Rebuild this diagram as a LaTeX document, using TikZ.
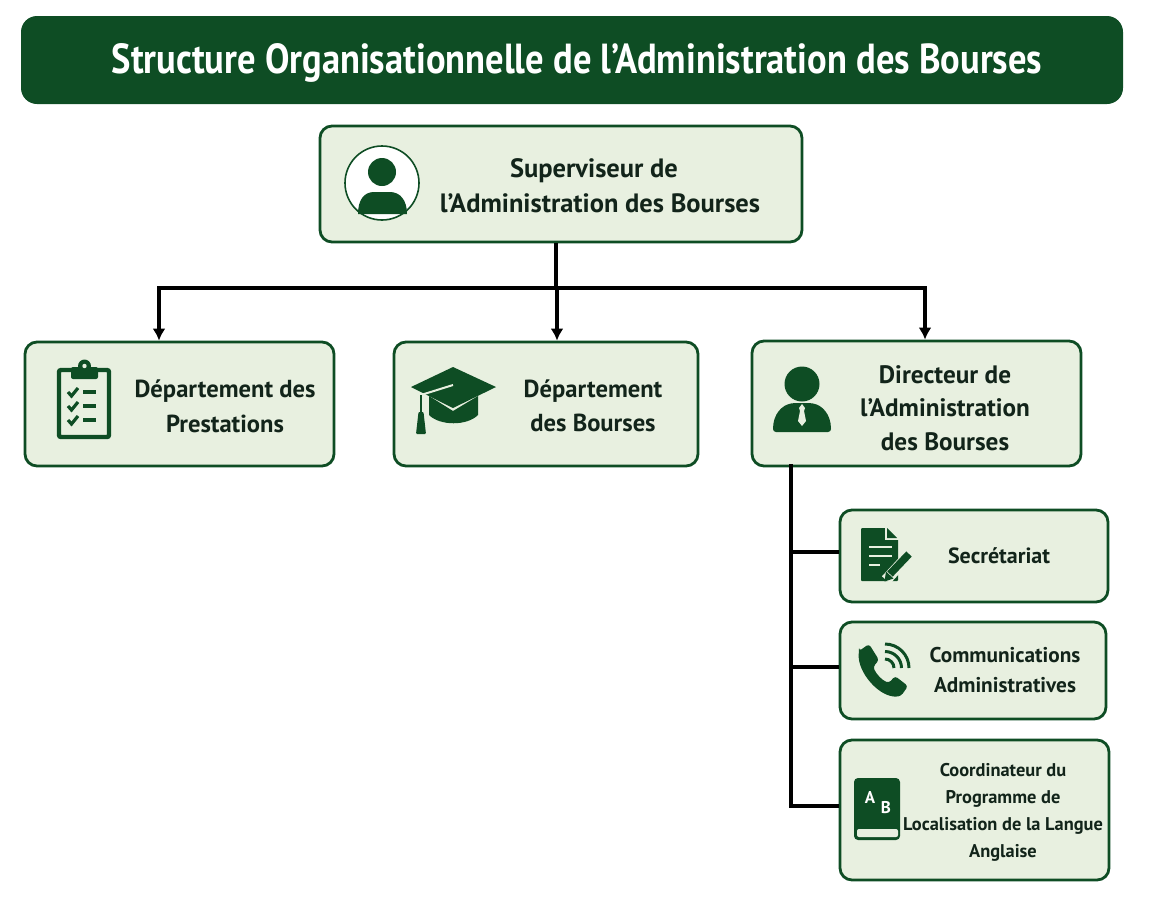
\documentclass[tikz,border=0pt]{standalone}
\usepackage{fontspec}
\setmainfont{PT Sans}
\newfontfamily\bannerfont[FakeStretch=0.87]{PT Sans}
\usetikzlibrary{arrows.meta,calc}
\definecolor{dkgreen}{HTML}{0E4D24}
\definecolor{boxfill}{HTML}{E8F0E0}
\definecolor{inktext}{HTML}{12241A}
\begin{document}
\begin{tikzpicture}[x=1pt,y=-1pt]
\tikzstyle{box}=[draw=dkgreen, fill=boxfill, line width=2.8pt, rounded corners=12pt, inner sep=0pt]
\tikzstyle{lbl}=[align=center, inner sep=0pt, text=inktext]
\tikzstyle{conn}=[black, line width=3.4pt]
\tikzstyle{arr}=[conn, -{Latex[length=12pt,width=13pt]}]
\tikzstyle{ic}=[fill=dkgreen, draw=none]
\useasboundingbox (0,0) rectangle (1150,922);
% banner
\node[fill=dkgreen, rounded corners=16pt, minimum width=1102pt, minimum height=88pt, inner sep=0pt] (title) at (572,60) {};
\node[lbl, text=white, font=\fontsize{42}{46}\bannerfont\bfseries] (titleT) at (577,63)
      {Structure Organisationnelle de l’Administration des Bourses};
% boxes
\foreach \n/\x/\y/\w/\h in {sup/561/184/482/116, prest/179.5/404/309/124, bours/546/404/304/124,
  dir/916.5/403.5/329/125, sec/974/556/268/92, comm/973/670.5/266/97, coord/974.5/810/269/140}{
  \node[box, minimum width=\w pt, minimum height=\h pt] (\n) at (\x,\y) {};
}
% labels
\node[lbl, font=\fontsize{26.5}{35}\selectfont\bfseries] (supT) at (600,186) {\hspace*{-12pt}Superviseur de\\l’Administration des Bourses};
\node[lbl, font=\fontsize{24.6}{35}\selectfont\bfseries] (prestT) at (225,406) {Département des\\Prestations};
\node[lbl, font=\fontsize{24.6}{34}\selectfont\bfseries] (boursT) at (593,406) {Département\\des Bourses};
\node[lbl, font=\fontsize{25.2}{33.5}\selectfont\bfseries] (dirT) at (945,408) {Directeur de\\l’Administration\\des Bourses};
\node[lbl, font=\fontsize{22}{30}\selectfont\bfseries] (secT) at (999,556) {Secrétariat};
\node[lbl, font=\fontsize{21.3}{30}\selectfont\bfseries] (commT) at (1005,670) {Communications\\Administratives};
\node[lbl, font=\fontsize{18.4}{27}\selectfont\bfseries] (coordT) at (1003,812) {Coordinateur du\\Programme de\\Localisation de la Langue\\Anglaise};
% connectors
\coordinate (hub) at (556,288);
\coordinate (hubL) at (159,288);
\coordinate (hubM) at (557,288);
\coordinate (hubR) at (925,288);
\draw[conn] (hub |- sup.south) -- (hub);
\draw[conn, line cap=rect] (hubL) -- (hubR);
\foreach \i/\j in {hubL/prest, hubM/bours, hubR/dir}{\draw[arr] (\i) -- (\i |- \j.north);}
\coordinate (tap) at (791,466);
\coordinate (tapA) at (791,552);
\coordinate (tapB) at (791,667);
\coordinate (tapC) at (791,806);
\draw[conn, line cap=rect] (tap) -- (tapC);
\foreach \i/\j in {tapA/sec, tapB/comm, tapC/coord}{\draw[conn] (\i) -- (\i -| \j.west);}
% person in ring
\draw[draw=dkgreen, fill=white, line width=1.6pt] (382,183) circle (37);
\fill[ic] (382,172) circle (14);
\fill[ic] (358,214) .. controls (358,200) and (364,192) .. (374,192) -- (390,192)
  .. controls (400,192) and (407,200) .. (407,214) -- cycle;
% clipboard
\draw[dkgreen, line width=4.4pt, rounded corners=2pt] (59,370) rectangle (109,437);
\fill[ic, rounded corners=2pt] (71,367) rectangle (98,379);
\fill[ic] (84.5,366) circle (6.5);
\fill[boxfill] (84.5,366) circle (2.2);
\foreach \y in {392,406,420}{
  \draw[dkgreen, line width=3.2pt] (68,\y) -- (71.5,\y+4) -- (78,\y-4);
  \draw[dkgreen, line width=3.6pt] (83,\y) -- (96,\y);
}
% mortarboard
\fill[ic] (429,396) -- (429,415) .. controls (440,426) and (467,426) .. (478,415) -- (478,396) -- (453,411) -- cycle;
\fill[ic] (411,387) -- (453,367) -- (496,387) -- (453,408) -- cycle;
\draw[boxfill, line width=2pt] (453,385) -- (421,395);
\draw[dkgreen, line width=2.6pt] (421,395) -- (421,414);
\fill[ic, rounded corners=1pt] (418.5,412) -- (423.5,412) -- (426,434) -- (416,434) -- cycle;
% manager
\fill[ic] (802,384) circle (17.5);
\fill[ic, rounded corners=3pt] (773,432) .. controls (773,414) and (782,405) .. (794,403) -- (810,403)
  .. controls (822,405) and (831,414) .. (831,432) -- cycle;
\fill[boxfill] (802,404) -- (805,408) -- (804,411) -- (806,421) -- (802,426) -- (798,421) -- (800,411) -- (799,408) -- cycle;
% sheet and pencil
\fill[ic, rounded corners=1pt] (861,528) -- (887,528) -- (898,538) -- (898,581) -- (861,581) -- cycle;
\fill[boxfill] (885,526) -- (885,540) -- (899,540) -- (899,526) -- cycle;
\fill[ic] (887,528) -- (897,538) -- (887,538) -- cycle;
\draw[boxfill, line width=2.4pt] (869,547) -- (892,547) (869,556) -- (892,556) (869,565) -- (880,565);
\draw[boxfill, line width=11pt] (886,580) -- (909,555);
\draw[dkgreen, line width=7.5pt] (890,574) -- (909,554);
\fill[ic] (884.5,581.5) -- (886,571.5) -- (893.5,578.5) -- cycle;
% handset and waves
\fill[ic, rounded corners=3pt] (859,651) -- (869,644) -- (879,660) -- (873,667)
  .. controls (877,675) and (882,680) .. (889,683) -- (895,676) -- (908,686) -- (901,696)
  .. controls (880,699) and (857,672) .. (859,651) -- cycle;
\foreach \r in {9,16.5,24}{\draw[dkgreen, line width=3pt] (885,668-\r) arc[start angle=-90, end angle=0, radius=\r];}
% book
\fill[ic, rounded corners=4pt] (854,778) rectangle (900,840);
\fill[boxfill, rounded corners=2pt] (857,829) rectangle (898,837);
\node[text=white, inner sep=0pt, font=\fontsize{17}{17}\selectfont\bfseries] (bookA) at (870,797) {A};
\node[text=white, inner sep=0pt, font=\fontsize{17}{17}\selectfont\bfseries] (bookB) at (886,808) {B};
\end{tikzpicture}
\end{document}
